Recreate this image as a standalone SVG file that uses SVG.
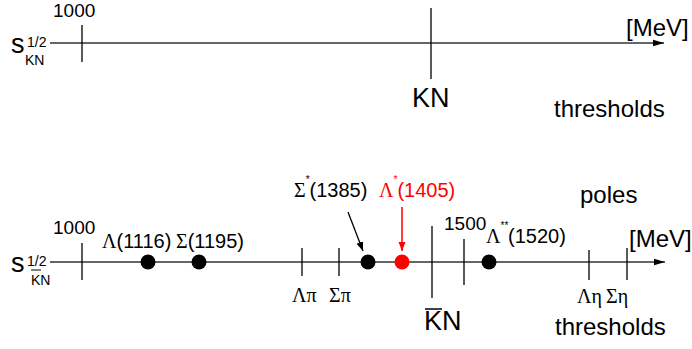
<svg xmlns="http://www.w3.org/2000/svg" width="692" height="349" viewBox="0 0 692 349">
<defs>
<marker id="ah" markerWidth="12" markerHeight="8" refX="11" refY="4" orient="auto" markerUnits="userSpaceOnUse"><path d="M0,0.8 L11,4 L0,7.2 Z" fill="#000"/></marker>
<marker id="ahs" markerWidth="10" markerHeight="10" refX="9" refY="5" orient="auto" markerUnits="userSpaceOnUse"><path d="M0,1.5 L9,5 L0,8.5 Z" fill="#000"/></marker>
<marker id="ahr" markerWidth="10" markerHeight="10" refX="9" refY="5" orient="auto" markerUnits="userSpaceOnUse"><path d="M0,1.5 L9,5 L0,8.5 Z" fill="#f00"/></marker>
</defs>
<style>
text{font-family:"Liberation Sans",Arial,sans-serif;fill:#000}
.g{font-family:"Liberation Serif","Times New Roman",serif}
.axis{stroke:#333;stroke-width:1.5;fill:none}
.tick{stroke:#000;stroke-width:1.3}
.red{fill:#f00}
</style>
<rect width="692" height="349" fill="#fff"/>

<g id="top-axis">
<line class="axis" x1="50" y1="43" x2="664" y2="43" marker-end="url(#ah)"/>
<line class="tick" x1="82" y1="25" x2="82" y2="62"/>
<line class="tick" x1="431" y1="8" x2="431" y2="79"/>
<text x="53" y="17" font-size="19">1000</text>
<text x="11" y="53" font-size="27">s</text>
<text x="27" y="47" font-size="14">1/2</text>
<text x="25" y="65" font-size="14">KN</text>
<text x="626" y="36" font-size="24">[MeV]</text>
<text x="412" y="107" font-size="27">KN</text>
<text x="554" y="117" font-size="24">thresholds</text>
</g>

<g id="bottom-axis">
<line class="axis" x1="50" y1="262" x2="665" y2="262" marker-end="url(#ah)"/>
<line class="tick" x1="82" y1="243" x2="82" y2="280"/>
<line class="tick" x1="302" y1="248" x2="302" y2="276"/>
<line class="tick" x1="339" y1="248" x2="339" y2="276"/>
<line class="tick" x1="432" y1="226" x2="432" y2="298"/>
<line class="tick" x1="464" y1="239" x2="464" y2="285"/>
<line class="tick" x1="589" y1="250" x2="589" y2="280"/>
<line class="tick" x1="627" y1="248" x2="627" y2="280"/>
<text x="53" y="234" font-size="19">1000</text>
<text x="444" y="230" font-size="19">1500</text>
<text x="11" y="272" font-size="27">s</text>
<text x="27" y="266" font-size="14">1/2</text>
<text x="31" y="285" font-size="14">KN</text>
<line x1="31" y1="270" x2="41" y2="270" stroke="#000" stroke-width="1"/>
<text x="629" y="247" font-size="24">[MeV]</text>
<text x="424" y="330" font-size="27">KN</text>
<line x1="425" y1="309" x2="442" y2="309" stroke="#000" stroke-width="1.5"/>
<text x="555" y="335" font-size="24">thresholds</text>
<text x="580" y="203" font-size="24">poles</text>
<text class="g" x="292" y="302" font-size="20">Λπ</text>
<text class="g" x="329" y="302" font-size="20">Σπ</text>
<text class="g" x="577" y="303" font-size="20">Λη</text>
<text class="g" x="606" y="303" font-size="20">Ση</text>
</g>

<g id="lambda1116">
<circle cx="148" cy="262" r="7.5"/>
<text x="102" y="248" font-size="20"><tspan class="g">Λ</tspan>(1116)</text>
</g>
<g id="sigma1195">
<circle cx="199" cy="262" r="7.5"/>
<text x="176" y="248" font-size="20"><tspan class="g">Σ</tspan>(1195)</text>
</g>
<g id="sigma1385">
<circle cx="368" cy="262" r="7.5"/>
<text x="294" y="197" font-size="20"><tspan class="g">Σ</tspan><tspan font-size="10" dy="-14">*</tspan><tspan dy="14">(1385)</tspan></text>
</g>
<g id="lambda1405">
<circle cx="402" cy="262" r="7.5" fill="#f00"/>
<text class="red" x="379" y="197" font-size="20"><tspan class="g red">Λ</tspan><tspan font-size="10" dy="-14">*</tspan><tspan dy="14">(1405)</tspan></text>
</g>
<g id="lambda1520">
<circle cx="489" cy="262" r="7.5"/>
<text x="486" y="243" font-size="20"><tspan class="g">Λ</tspan><tspan font-size="10" dy="-14">**</tspan><tspan dy="14" x="508">(1520)</tspan></text>
</g>

<g id="connectors">
<line x1="348" y1="212" x2="363" y2="251" stroke="#000" stroke-width="1.3" marker-end="url(#ahs)"/>
<line x1="402" y1="207" x2="402" y2="251" stroke="#f00" stroke-width="1.5" marker-end="url(#ahr)"/>
</g>
</svg>
